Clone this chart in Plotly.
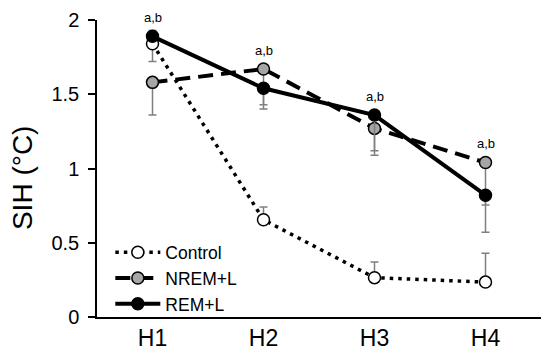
import plotly.graph_objects as go

categories = ["H1", "H2", "H3", "H4"]

control = [1.84, 0.655, 0.265, 0.235]
control_up = [0.0, 0.085, 0.105, 0.195]
control_down = [0.12, 0.0, 0.0, 0.0]

nrem = [1.58, 1.67, 1.27, 1.04]
nrem_up = [0.0, 0.0, 0.0, 0.0]
nrem_down = [0.22, 0.24, 0.15, 0.285]

rem = [1.89, 1.54, 1.36, 0.82]
rem_up = [0.04, 0.0, 0.0, 0.0]
rem_down = [0.0, 0.14, 0.27, 0.25]

sig_labels = ["a,b", "a,b", "a,b", "a,b"]
y_title = "SIH (°C)"

x_idx = list(range(len(categories)))
err_color = "#7f7f7f"

fig = go.Figure()

def add(name, y, up, down, dash, fill, width):
    fig.add_trace(go.Scatter(
        x=x_idx, y=y, name=name, mode="lines+markers",
        line=dict(color="black", width=width, dash=dash),
        marker=dict(size=12, color=fill, line=dict(color="black", width=1.5)),
        error_y=dict(type="data", symmetric=False, array=up, arrayminus=down,
                     color=err_color, thickness=1.5, width=4),
        cliponaxis=False,
    ))

add("Control", control, control_up, control_down, "3.5px,5px", "white", 3.5)
add("NREM+L", nrem, nrem_up, nrem_down, "15px,8px", "#a6a6a6", 4)
add("REM+L", rem, rem_up, rem_down, "solid", "black", 4)

for xi, lab in zip(x_idx, sig_labels):
    top = max(control[xi], nrem[xi], rem[xi])
    fig.add_annotation(x=xi, y=top, text=lab, showarrow=False, yshift=19,
                       font=dict(size=13, color="black", family="Liberation Sans"))

# y-axis title as rotated text
fig.add_annotation(xref="paper", yref="paper", x=-0.169, y=0.471, text=y_title,
                   textangle=-90, showarrow=False, xanchor="center", yanchor="middle",
                   font=dict(size=28, color="black", family="Liberation Sans"))

fig.update_layout(
    width=550, height=362,
    margin=dict(l=97, r=9, t=15, b=45),
    paper_bgcolor="white", plot_bgcolor="white",
    font=dict(family="Liberation Sans", color="black"),
    showlegend=True,
    legend=dict(x=0.03, y=0.278, xanchor="left", yanchor="top",
                bgcolor="rgba(0,0,0,0)", font=dict(size=17.5, family="Liberation Sans"),
                tracegroupgap=0, itemwidth=45),
)
fig.update_xaxes(
    range=[-0.5, 3.5], tickmode="array", tickvals=x_idx, ticktext=categories,
    showline=True, linecolor="black", linewidth=1.5, ticks="",
    showgrid=False, zeroline=False, tickfont=dict(size=23),
)
fig.update_yaxes(
    range=[0, 2], tickmode="array", tickvals=[0, 0.5, 1, 1.5, 2],
    ticktext=["0", "0.5", "1", "1.5", "2"],
    showline=True, linecolor="black", linewidth=1.5, ticks="outside",
    ticklen=7, tickwidth=1.5, tickcolor="black", ticklabelstandoff=5,
    ticklabeloverflow="allow",
    showgrid=False, zeroline=False, tickfont=dict(size=20),
)

fig.write_html("out.html", config={"displayModeBar": False},
               post_script="document.body.style.margin='0';")
